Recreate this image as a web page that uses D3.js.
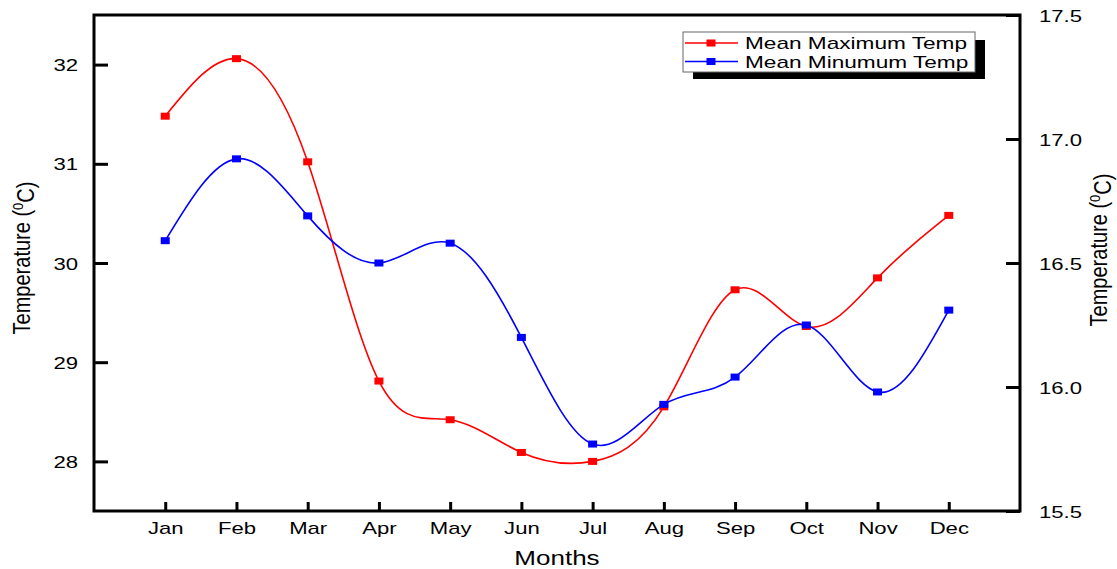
<!DOCTYPE html>
<html>
<head>
<meta charset="utf-8">
<script src="https://cdn.jsdelivr.net/npm/d3@7"></script>
<style>
  html, body { margin: 0; padding: 0; background: #fff; }
  svg { display: block; }
  text { font-family: "Liberation Sans", Arial, sans-serif; fill: #000; }
</style>
</head>
<body>
<svg id="chart" width="1117" height="569"></svg>
<script>
// ---- data ----
const months = ["Jan","Feb","Mar","Apr","May","Jun","Jul","Aug","Sep","Oct","Nov","Dec"];
const meanMax = [31.48, 32.06, 31.02, 28.81, 28.42, 28.09, 28.00, 28.55, 29.73, 29.36, 29.85, 30.48];
const meanMin = [16.59, 16.92, 16.69, 16.50, 16.58, 16.20, 15.77, 15.93, 16.04, 16.25, 15.98, 16.31];
const leftTicks = [28, 29, 30, 31, 32];
const rightTicks = [15.5, 16.0, 16.5, 17.0, 17.5];
const seriesNames = ["Mean Maximum Temp", "Mean Minumum Temp"];
const seriesColors = ["#ff0000", "#0000ff"];

// ---- layout ----
const W = 1117, H = 569;
const L = 94, R = 1020, T = 15, B = 511;
const STRETCH = 1.3;

const svg = d3.select("#chart");

const x = d3.scaleLinear().domain([0, 13]).range([L, R]);
const yL = d3.scaleLinear().domain([27.5, 32.5]).range([B, T]);
const yR = d3.scaleLinear().domain([15.5, 17.5]).range([B, T]);

function stretch(sel, k) {
  sel.each(function() {
    const n = this.getComputedTextLength();
    d3.select(this).attr("textLength", n * k).attr("lengthAdjust", "spacingAndGlyphs");
  });
}

// frame
svg.append("rect").attr("x", L).attr("y", T).attr("width", R - L).attr("height", B - T)
  .attr("fill", "none").attr("stroke", "#000").attr("stroke-width", 3);

// left axis
const gL = svg.append("g").attr("transform", `translate(${L},0)`)
  .call(d3.axisLeft(yL).tickValues(leftTicks).tickFormat(d3.format("d")).tickSizeInner(-14).tickSizeOuter(0).tickPadding(16));
gL.select(".domain").remove();
gL.selectAll(".tick line").attr("stroke", "#000").attr("stroke-width", 3);
gL.selectAll(".tick text").style("font-size", "17px").attr("dy", "0.36em").call(stretch, STRETCH);

// right axis
const gR = svg.append("g").attr("transform", `translate(${R},0)`)
  .call(d3.axisRight(yR).tickValues(rightTicks).tickFormat(d3.format(".1f")).tickSizeInner(-14).tickSizeOuter(0).tickPadding(19));
gR.select(".domain").remove();
gR.selectAll(".tick line").attr("stroke", "#000").attr("stroke-width", 3);
gR.selectAll(".tick text").style("font-size", "17px").attr("dy", "0.36em").call(stretch, STRETCH);

// bottom axis
const gB = svg.append("g").attr("transform", `translate(0,${B})`)
  .call(d3.axisBottom(x).tickValues(d3.range(1, 13)).tickFormat(d => months[d - 1]).tickSizeInner(-9).tickSizeOuter(0).tickPadding(21));
gB.select(".domain").remove();
gB.selectAll(".tick line").attr("stroke", "#000").attr("stroke-width", 3);
gB.selectAll(".tick text").style("font-size", "17px").attr("dy", "0.1em").call(stretch, STRETCH);

// axis titles
svg.append("text").attr("x", 557).attr("y", 565).attr("text-anchor", "middle")
  .style("font-size", "20px").text("Months").call(stretch, STRETCH);

function yTitle(cx, cy) {
  const t = svg.append("text")
    .attr("transform", `translate(${cx},${cy}) rotate(-90) scale(1,1.15)`)
    .attr("text-anchor", "middle").style("font-size", "20px");
  t.append("tspan").text("Temperature (");
  t.append("tspan").attr("dy", "-0.45em").style("font-size", "13px").text("0");
  t.append("tspan").attr("dy", "0.45em").text("C)");
}
yTitle(30, 258);
yTitle(1107, 250);

// series
const datasets = [
  { vals: meanMax, y: yL, color: seriesColors[0] },
  { vals: meanMin, y: yR, color: seriesColors[1] }
];
datasets.forEach(ds => {
  const pts = ds.vals.map((v, i) => [x(i + 1), ds.y(v)]);
  svg.append("path").attr("d", d3.line().curve(d3.curveNatural)(pts))
    .attr("fill", "none").attr("stroke", ds.color).attr("stroke-width", 1.6);
  svg.append("g").selectAll("rect").data(pts).join("rect")
    .attr("x", d => d[0] - 4.5).attr("y", d => d[1] - 3.5)
    .attr("width", 9).attr("height", 7).attr("fill", ds.color);
});

// legend
const lg = svg.append("g");
lg.append("rect").attr("x", 693).attr("y", 40).attr("width", 292).attr("height", 39).attr("fill", "#000");
lg.append("rect").attr("x", 683).attr("y", 32).attr("width", 292).attr("height", 40)
  .attr("fill", "#fff").attr("stroke", "#666").attr("stroke-width", 1);
seriesNames.forEach((name, i) => {
  const yy = 43 + i * 18.5;
  lg.append("line").attr("x1", 685).attr("x2", 738).attr("y1", yy).attr("y2", yy)
    .attr("stroke", seriesColors[i]).attr("stroke-width", 1.6);
  lg.append("rect").attr("x", 711 - 4.5).attr("y", yy - 3.5).attr("width", 9).attr("height", 7)
    .attr("fill", seriesColors[i]);
  lg.append("text").attr("x", 745).attr("y", yy).attr("dy", "0.36em")
    .style("font-size", "17px").text(name).call(stretch, 1.33);
});
</script>
</body>
</html>
